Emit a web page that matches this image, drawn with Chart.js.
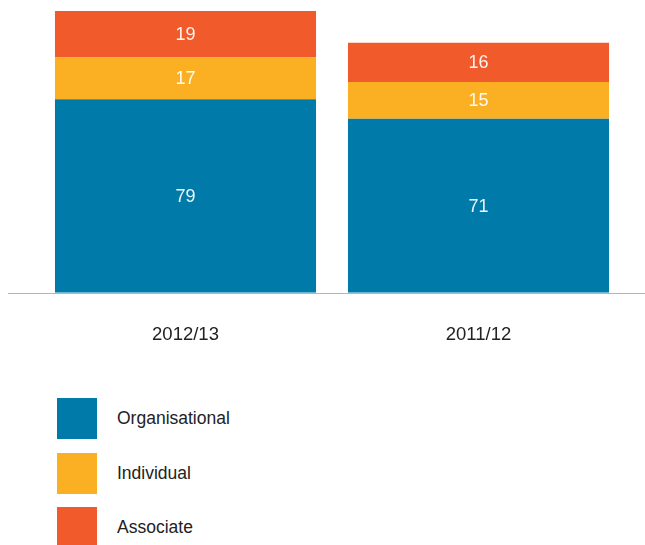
<!DOCTYPE html>
<html>
<head>
<meta charset="utf-8">
<script src="https://cdn.jsdelivr.net/npm/chart.js@4/dist/chart.umd.min.js"></script>
<style>
  html, body { margin: 0; padding: 0; background: #fff; }
  #wrap { position: relative; width: 645px; height: 545px; overflow: hidden; font-family: "Liberation Sans", Arial, sans-serif; }
  #box { position: absolute; left: 0; top: 0; width: 645px; height: 377px; }
  #legend { position: absolute; left: 57px; top: 398px; }
  .item { position: relative; height: 54.5px; }
  .sw { position: absolute; left: 0; top: 0; width: 40px; height: 41px; }
  .lbl { position: absolute; left: 60px; top: 0; line-height: 41px; font-size: 17.5px; color: #222; white-space: nowrap; }
</style>
</head>
<body>
<div id="wrap">
  <div id="box"><canvas id="grafico"></canvas></div>
  <div id="legend"></div>
</div>
<script>
// categorias e valores
const anos = ['2012/13', '2011/12'];
const organisational = [79, 71];
const individual = [17, 15];
const associate = [19, 16];

const series = ['Organisational', 'Individual', 'Associate'];
const cores = ['#007BA9', '#FBB024', '#F15A2B'];

// escreve o valor no meio de cada segmento
const rotulos = {
  id: 'rotulos',
  afterDatasetsDraw(chart) {
    const ctx = chart.ctx;
    ctx.save();
    ctx.font = '18px "Liberation Sans", Arial, sans-serif';
    ctx.fillStyle = 'rgba(255,255,255,0.93)';
    ctx.textAlign = 'center';
    ctx.textBaseline = 'middle';
    chart.data.datasets.forEach((ds, i) => {
      chart.getDatasetMeta(i).data.forEach((bar, j) => {
        const mid = (bar.y + bar.base) / 2;
        ctx.fillText(ds.data[j], bar.x, mid + 1);
      });
    });
    ctx.restore();
  }
};

// linha de base mais larga que a área do gráfico
const linhaBase = {
  id: 'linhaBase',
  beforeDatasetsDraw(chart) {
    const ctx = chart.ctx;
    const y = Math.round(chart.scales.y.getPixelForValue(0)) + 0.5;
    ctx.save();
    ctx.strokeStyle = '#b5b5b5';
    ctx.lineWidth = 1.2;
    ctx.beginPath();
    ctx.moveTo(8, y);
    ctx.lineTo(chart.width, y);
    ctx.stroke();
    ctx.restore();
  }
};

const valores = [organisational, individual, associate];

new Chart(document.getElementById('grafico'), {
  type: 'bar',
  data: {
    labels: anos,
    datasets: series.map((nome, i) => ({
      label: nome,
      data: valores[i],
      backgroundColor: cores[i],
      borderWidth: 0,
      barPercentage: 0.891,
      categoryPercentage: 1
    }))
  },
  options: {
    responsive: true,
    maintainAspectRatio: false,
    animation: false,
    events: [],
    layout: { padding: { top: 11, left: 39, right: 20, bottom: 0 } },
    plugins: { legend: { display: false }, tooltip: { enabled: false } },
    scales: {
      x: {
        stacked: true,
        grid: { display: false, drawTicks: false },
        border: { display: false },
        ticks: {
          padding: 31,
          color: '#222',
          font: { family: '"Liberation Sans", Arial, sans-serif', size: 18.5 }
        }
      },
      y: {
        stacked: true,
        display: false,
        min: 0,
        max: 115
      }
    }
  },
  plugins: [linhaBase, rotulos]
});

// legenda em HTML
const legenda = document.getElementById('legend');
series.forEach((nome, i) => {
  legenda.innerHTML += `<div class="item"><div class="sw" style="background:${cores[i]}"></div><div class="lbl">${nome}</div></div>`;
});
</script>
</body>
</html>
